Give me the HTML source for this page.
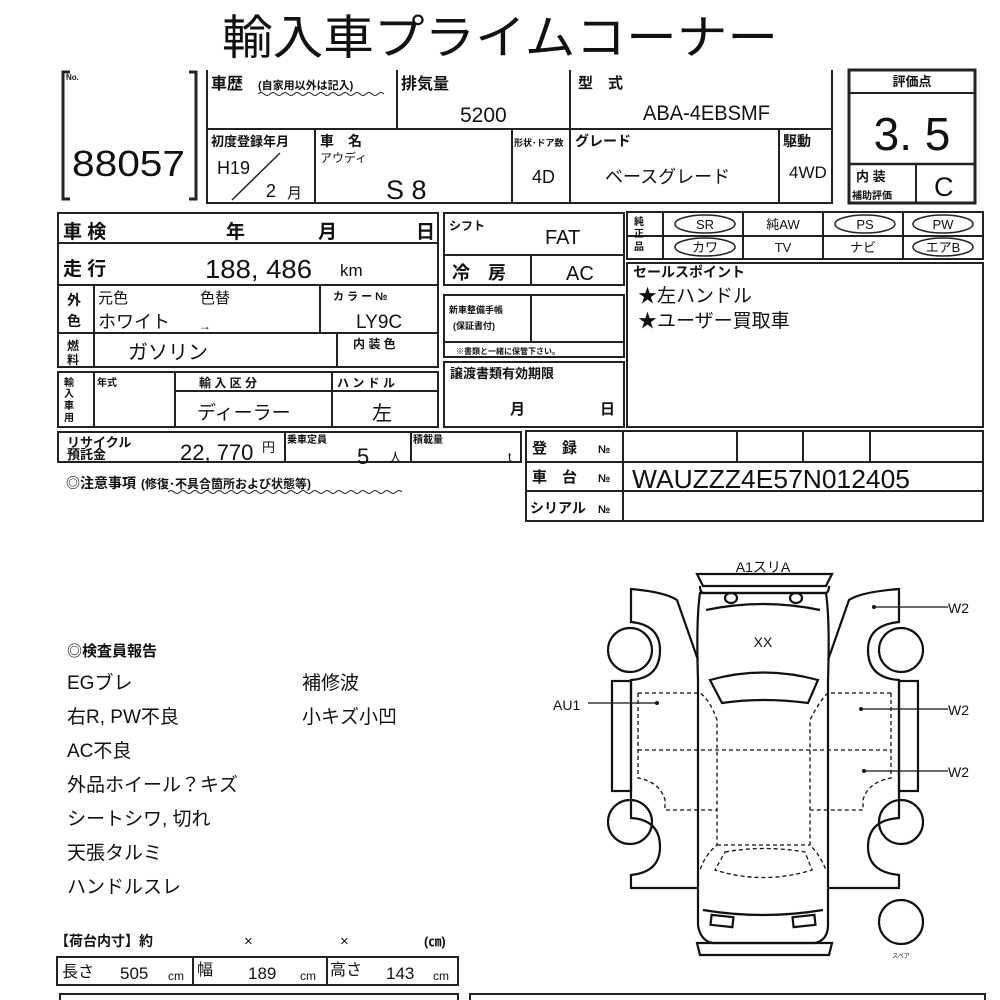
<!DOCTYPE html>
<html><head><meta charset="utf-8"><style>
html,body{margin:0;padding:0;background:#fff;width:1000px;height:1000px;overflow:hidden}
svg{display:block}
text{font-family:"Liberation Sans","Noto Sans CJK JP",sans-serif;fill:#111}
.b{font-weight:bold}
</style></head><body>
<svg width="1000" height="1000" viewBox="0 0 1000 1000" xmlns="http://www.w3.org/2000/svg">
<g stroke="#222" fill="none" stroke-width="2">
<path d="M70,72 H63 V199 H70" stroke-width="3"/>
<path d="M189,72 H196 V199 H189" stroke-width="3"/>
<path d="M207,70 V203 H832 V70"/>
<line x1="207" y1="129" x2="832" y2="129"/>
<line x1="397" y1="70" x2="397" y2="129"/>
<line x1="570" y1="70" x2="570" y2="203"/>
<line x1="315" y1="129" x2="315" y2="203"/>
<line x1="512" y1="129" x2="512" y2="203"/>
<line x1="779" y1="129" x2="779" y2="203"/>
<line x1="232" y1="200" x2="280" y2="153" stroke-width="1.5"/>
<rect x="849" y="70" width="126" height="133" stroke-width="3"/>
<line x1="849" y1="93" x2="975" y2="93"/>
<line x1="849" y1="164" x2="975" y2="164" stroke-width="2.5"/>
<line x1="916" y1="164" x2="916" y2="203"/>
<rect x="58" y="213" width="380" height="154"/>
<line x1="58" y1="243" x2="438" y2="243"/>
<line x1="58" y1="285" x2="438" y2="285"/>
<line x1="58" y1="333" x2="438" y2="333"/>
<line x1="94" y1="285" x2="94" y2="367"/>
<line x1="320" y1="285" x2="320" y2="333"/>
<line x1="337" y1="333" x2="337" y2="367"/>
<rect x="58" y="372" width="380" height="55"/>
<line x1="94" y1="372" x2="94" y2="427"/>
<line x1="175" y1="372" x2="175" y2="427"/>
<line x1="332" y1="372" x2="332" y2="427"/>
<line x1="175" y1="391" x2="438" y2="391"/>
<rect x="58" y="432" width="463" height="30"/>
<line x1="285" y1="432" x2="285" y2="462"/>
<line x1="411" y1="432" x2="411" y2="462"/>
<rect x="444" y="213" width="180" height="72"/>
<line x1="444" y1="255" x2="624" y2="255"/>
<line x1="531" y1="255" x2="531" y2="285"/>
<rect x="444" y="295" width="180" height="62"/>
<line x1="444" y1="342" x2="624" y2="342"/>
<line x1="531" y1="295" x2="531" y2="342"/>
<rect x="444" y="362" width="180" height="65"/>
<rect x="627" y="212" width="356" height="47"/>
<line x1="627" y1="236" x2="983" y2="236"/>
<line x1="663" y1="212" x2="663" y2="259"/>
<line x1="743" y1="212" x2="743" y2="259"/>
<line x1="823" y1="212" x2="823" y2="259"/>
<line x1="903" y1="212" x2="903" y2="259"/>
<g stroke-width="1.5">
<ellipse cx="705" cy="224" rx="30" ry="9"/>
<ellipse cx="705" cy="247" rx="30" ry="9"/>
<ellipse cx="865" cy="224" rx="30" ry="9"/>
<ellipse cx="943" cy="224" rx="30" ry="9"/>
<ellipse cx="943" cy="247" rx="30" ry="9"/>
</g>
<rect x="627" y="263" width="356" height="164"/>
<rect x="526" y="431" width="457" height="90"/>
<line x1="526" y1="462" x2="983" y2="462"/>
<line x1="526" y1="491" x2="983" y2="491"/>
<line x1="623" y1="431" x2="623" y2="521"/>
<line x1="737" y1="431" x2="737" y2="462"/>
<line x1="803" y1="431" x2="803" y2="462"/>
<line x1="870" y1="431" x2="870" y2="462"/>
<path d="M258,94 q3,-3 6,0 t6,0 t6,0 t6,0 t6,0 t6,0 t6,0 t6,0 t6,0 t6,0 t6,0 t6,0 t6,0 t6,0 t6,0 t6,0 t6,0 t6,0 t6,0 t6,0 t6,0" stroke-width="1"/>
<path d="M168,492 q3,-3 6,0 t6,0 t6,0 t6,0 t6,0 t6,0 t6,0 t6,0 t6,0 t6,0 t6,0 t6,0 t6,0 t6,0 t6,0 t6,0 t6,0 t6,0 t6,0 t6,0 t6,0 t6,0 t6,0 t6,0 t6,0 t6,0 t6,0 t6,0 t6,0 t6,0 t6,0 t6,0 t6,0 t6,0 t6,0 t6,0 t6,0 t6,0 t6,0" stroke-width="1"/>
<rect x="57" y="957" width="401" height="28"/>
<line x1="193" y1="957" x2="193" y2="985"/>
<line x1="327" y1="957" x2="327" y2="985"/>
<path d="M60,1002 V994 H458 V1002"/>
<path d="M470,1002 V994 H985 V1002"/>
</g>

<g stroke="#111" fill="none" stroke-width="2.2">
<path d="M697,574 H832 L826,586 H703 Z"/>
<path d="M700,586 Q700,592 703,593 H826 Q829,592 829,586"/>
<path d="M700,593 Q696,620 698,680 L698,925 Q700,940 712,943 H815 Q828,940 828,925 L828,680 Q830,620 826,593 Z"/>
<path d="M706,610 Q763,598 820,610"/>
<ellipse cx="731" cy="598" rx="6" ry="5"/><ellipse cx="796" cy="598" rx="6" ry="5"/>
<path d="M710,680 Q763,665 818,680 L808,703 Q763,697 722,703 Z"/>
<path d="M703,910 Q763,920 823,910"/>
<rect x="711" y="916" width="22" height="10" transform="rotate(6 722 921)"/>
<rect x="793" y="916" width="22" height="10" transform="rotate(-6 804 921)"/>
<path d="M697,943 H832 L829,955 H700 Z"/>
<path d="M698,660 L677,600 Q665,592 631,589 V622 Q660,625 660,650 Q660,678 631,680 V818 Q660,820 660,847 Q660,872 631,875 V888 H698"/>
<rect x="612" y="681" width="19" height="110"/>
<circle cx="630" cy="650" r="22"/>
<circle cx="630" cy="822" r="22"/>
<path d="M828,660 L849,600 Q861,592 899,589 V622 Q868,625 868,650 Q868,678 899,680 V818 Q868,820 868,847 Q868,872 899,875 V888 H828"/>
<rect x="899" y="681" width="19" height="110"/>
<circle cx="901" cy="650" r="22"/>
<circle cx="901" cy="822" r="22"/>
<circle cx="901" cy="922" r="22"/>
<g stroke-width="1.3" stroke-dasharray="4,3">
<path d="M638,693 H700 Q710,700 717,720 V845 Q705,855 700,870"/>
<path d="M638,693 V778 Q660,782 665,800 V810 H717"/>
<path d="M638,750 H891"/>
<path d="M891,693 H828 Q820,700 810,720 V845 Q820,855 826,870"/>
<path d="M891,693 V778 Q868,782 863,800 V810 H810"/>
<path d="M717,845 H810"/>
<path d="M725,852 Q763,845 805,852 L812,870 Q763,885 715,870 Z"/>
</g>
<g stroke-width="1.3">
<line x1="588" y1="703" x2="657" y2="703"/>
<line x1="874" y1="607" x2="948" y2="607"/>
<line x1="861" y1="709" x2="948" y2="709"/>
<line x1="864" y1="771" x2="948" y2="771"/>
</g>
</g>
<g fill="#111"><circle cx="657" cy="703" r="2"/><circle cx="874" cy="607" r="2"/><circle cx="861" cy="709" r="2"/><circle cx="864" cy="771" r="2"/></g>

<text x="500" y="54" font-size="47" text-anchor="middle" textLength="556" lengthAdjust="spacingAndGlyphs">輸入車プライムコーナー</text>
<text x="66" y="80" font-size="8" class="b">No.</text>
<text x="72" y="176" font-size="36" textLength="113" lengthAdjust="spacingAndGlyphs">88057</text>
<text x="211" y="89" font-size="16" class="b">車歴</text>
<text x="258" y="89" font-size="11" class="b">(自家用以外は記入)</text>
<text x="401" y="89" font-size="16" class="b">排気量</text>
<text x="460" y="122" font-size="21">5200</text>
<text x="578" y="88" font-size="15" class="b">型　式</text>
<text x="643" y="120" font-size="21" textLength="127" lengthAdjust="spacingAndGlyphs">ABA-4EBSMF</text>
<text x="211" y="146" font-size="13" class="b">初度登録年月</text>
<text x="217" y="174" font-size="18">H19</text>
<text x="266" y="197" font-size="18">2</text>
<text x="287" y="198" font-size="15">月</text>
<text x="320" y="146" font-size="14" class="b">車　名</text>
<text x="320" y="162" font-size="12">アウディ</text>
<text x="386" y="199" font-size="27">S 8</text>
<text x="514" y="146" font-size="9" class="b">形状･ドア数</text>
<text x="532" y="183" font-size="18">4D</text>
<text x="575" y="146" font-size="14" class="b">グレード</text>
<text x="605" y="183" font-size="18">ベースグレード</text>
<text x="783" y="146" font-size="14" class="b">駆動</text>
<text x="789" y="178" font-size="17">4WD</text>
<text x="912" y="86" font-size="13" class="b" text-anchor="middle">評価点</text>
<text x="912" y="150" font-size="46" text-anchor="middle">3. 5</text>
<text x="856" y="181" font-size="13" class="b">内 装</text>
<text x="852" y="199" font-size="10" class="b">補助評価</text>
<text x="934" y="196" font-size="27">C</text>

<text x="63" y="238" font-size="19" class="b">車 検</text>
<text x="226" y="238" font-size="19" class="b">年</text>
<text x="318" y="238" font-size="19" class="b">月</text>
<text x="416" y="238" font-size="19" class="b">日</text>
<text x="63" y="275" font-size="19" class="b">走 行</text>
<text x="205" y="278" font-size="26" textLength="107" lengthAdjust="spacingAndGlyphs">188, 486</text>
<text x="340" y="276" font-size="17">km</text>
<text x="67" y="305" font-size="14" class="b">外</text>
<text x="67" y="326" font-size="14" class="b">色</text>
<text x="98" y="303" font-size="15">元色</text>
<text x="200" y="303" font-size="15">色替</text>
<text x="98" y="328" font-size="18">ホワイト</text>
<text x="199" y="330" font-size="12">→</text>
<text x="333" y="300" font-size="11" class="b">カ ラ ー №</text>
<text x="356" y="328" font-size="19">LY9C</text>
<text x="67" y="350" font-size="12" class="b">燃</text>
<text x="67" y="364" font-size="12" class="b">料</text>
<text x="128" y="359" font-size="20">ガソリン</text>
<text x="353" y="348" font-size="12" class="b">内 装 色</text>
<text x="64" y="386" font-size="10" class="b">輸</text>
<text x="64" y="397" font-size="10" class="b">入</text>
<text x="64" y="409" font-size="10" class="b">車</text>
<text x="64" y="421" font-size="10" class="b">用</text>
<text x="97" y="386" font-size="10" class="b">年式</text>
<text x="199" y="387" font-size="12" class="b">輸 入 区 分</text>
<text x="337" y="387" font-size="12" class="b">ハ ン ド ル</text>
<text x="197" y="419" font-size="19">ディーラー</text>
<text x="372" y="420" font-size="20">左</text>
<text x="67" y="447" font-size="13" class="b">リサイクル</text>
<text x="67" y="459" font-size="13" class="b">預託金</text>
<text x="180" y="460" font-size="22">22, 770</text>
<text x="262" y="452" font-size="13">円</text>
<text x="287" y="443" font-size="10" class="b">乗車定員</text>
<text x="357" y="464" font-size="22">5</text>
<text x="389" y="462" font-size="13">人</text>
<text x="413" y="443" font-size="10" class="b">積載量</text>
<text x="508" y="461" font-size="12">t</text>
<text x="66" y="488" font-size="14" class="b">◎注意事項</text>
<text x="141" y="488" font-size="12" class="b">(修復･不具合箇所および状態等)</text>

<text x="449" y="230" font-size="12" class="b">シフト</text>
<text x="545" y="244" font-size="20">FAT</text>
<text x="452" y="279" font-size="18" class="b">冷　房</text>
<text x="566" y="280" font-size="20">AC</text>
<text x="449" y="313" font-size="9" class="b">新車整備手帳</text>
<text x="453" y="329" font-size="9" class="b">(保証書付)</text>
<text x="456" y="354" font-size="8" class="b">※書類と一緒に保管下さい。</text>
<text x="450" y="378" font-size="13" class="b">譲渡書類有効期限</text>
<text x="510" y="414" font-size="15" class="b">月</text>
<text x="600" y="414" font-size="15" class="b">日</text>

<text x="634" y="225" font-size="10" class="b">純</text>
<text x="634" y="237" font-size="10" class="b">正</text>
<text x="634" y="250" font-size="10" class="b">品</text>
<text x="705" y="229" font-size="13" text-anchor="middle">SR</text>
<text x="705" y="252" font-size="13" text-anchor="middle">カワ</text>
<text x="783" y="229" font-size="13" text-anchor="middle">純AW</text>
<text x="783" y="252" font-size="13" text-anchor="middle">TV</text>
<text x="865" y="229" font-size="13" text-anchor="middle">PS</text>
<text x="863" y="252" font-size="13" text-anchor="middle">ナビ</text>
<text x="943" y="229" font-size="13" text-anchor="middle">PW</text>
<text x="943" y="252" font-size="13" text-anchor="middle">エアB</text>
<text x="633" y="277" font-size="14" class="b">セールスポイント</text>
<text x="638" y="302" font-size="19">★左ハンドル</text>
<text x="638" y="327" font-size="19">★ユーザー買取車</text>
<text x="532" y="453" font-size="15" class="b">登　録</text>
<text x="598" y="453" font-size="11" class="b">№</text>
<text x="532" y="482" font-size="15" class="b">車　台</text>
<text x="598" y="482" font-size="11" class="b">№</text>
<text x="530" y="513" font-size="14" class="b">シリアル</text>
<text x="598" y="513" font-size="11" class="b">№</text>
<text x="632" y="488" font-size="26" textLength="278" lengthAdjust="spacingAndGlyphs">WAUZZZ4E57N012405</text>

<text x="763" y="572" font-size="14" text-anchor="middle">A1スリA</text>
<text x="763" y="647" font-size="14" text-anchor="middle">XX</text>
<text x="553" y="710" font-size="14">AU1</text>
<text x="948" y="613" font-size="14">W2</text>
<text x="948" y="715" font-size="14">W2</text>
<text x="948" y="777" font-size="14">W2</text>
<text x="901" y="958" font-size="6" text-anchor="middle">スペア</text>

<text x="67" y="656" font-size="15" class="b">◎検査員報告</text>
<g font-size="19">
<text x="67" y="689">EGブレ</text>
<text x="67" y="723">右R, PW不良</text>
<text x="67" y="757">AC不良</text>
<text x="67" y="791">外品ホイール？キズ</text>
<text x="67" y="825">シートシワ, 切れ</text>
<text x="67" y="859">天張タルミ</text>
<text x="67" y="893">ハンドルスレ</text>
<text x="302" y="689">補修波</text>
<text x="302" y="723">小キズ小凹</text>
</g>
<text x="55" y="946" font-size="14" class="b">【荷台内寸】約</text>
<text x="244" y="946" font-size="15">×</text>
<text x="340" y="946" font-size="15">×</text>
<text x="424" y="946" font-size="13" class="b">(㎝)</text>
<text x="62" y="977" font-size="16">長さ</text>
<text x="120" y="979" font-size="17">505</text>
<text x="168" y="980" font-size="12">cm</text>
<text x="197" y="975" font-size="16">幅</text>
<text x="248" y="979" font-size="17">189</text>
<text x="300" y="980" font-size="12">cm</text>
<text x="330" y="975" font-size="16">高さ</text>
<text x="386" y="979" font-size="17">143</text>
<text x="433" y="980" font-size="12">cm</text>
</svg>
</body></html>
